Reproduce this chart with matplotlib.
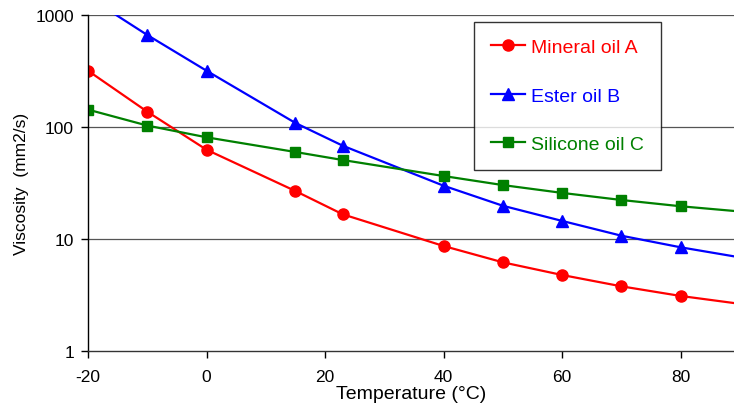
import matplotlib
matplotlib.use("Agg")
import matplotlib.pyplot as plt
from matplotlib.ticker import FixedLocator, NullLocator, FixedFormatter

plt.rcParams['font.family'] = ['Liberation Sans', 'DejaVu Sans']
plt.rcParams['axes.unicode_minus'] = False

# Temperatures (°C)
temp_a = [-20, -10, 0, 15, 23, 40, 50, 60, 70, 80, 89]
visc_a = [318, 137, 62.7, 26.8, 16.6, 8.66, 6.19, 4.77, 3.78, 3.10, 2.68]
marks_a = [0, 1, 2, 3, 4, 5, 6, 7, 8, 9]

temp_b = [-20, -10, 0, 15, 23, 40, 50, 60, 70, 80, 89]
visc_b = [1450, 663, 318, 108.6, 68, 29.9, 19.8, 14.5, 10.7, 8.43, 7.0]
marks_b = [1, 2, 3, 4, 5, 6, 7, 8, 9]

temp_c = [-20, -10, 0, 15, 23, 40, 50, 60, 70, 80, 89]
visc_c = [143, 103, 80.9, 59.8, 50.7, 36.5, 30.3, 25.8, 22.3, 19.6, 17.8]
marks_c = [0, 1, 2, 3, 4, 5, 6, 7, 8, 9]

labels = ["Mineral oil A", "Ester oil B", "Silicone oil C"]
colors = ["#ff0000", "#0000ff", "#008000"]

x_ticks = [-20, 0, 20, 40, 60, 80]
x_tick_labels = ["-20", "0", "20", "40", "60", "80"]
y_ticks = [1, 10, 100, 1000]
y_tick_labels = ["1", "10", "100", "1000"]

fig = plt.figure(figsize=(7.34, 4.10), dpi=100)
ax = fig.add_axes([88/734, 1 - 352/410, 1 - 88/734, (352 - 16)/410])

ax.plot(temp_a, visc_a, color=colors[0], lw=1.6, marker='o', ms=8,
        markevery=marks_a, label=labels[0])
ax.plot(temp_b, visc_b, color=colors[1], lw=1.6, marker='^', ms=8.5,
        markevery=marks_b, label=labels[1])
ax.plot(temp_c, visc_c, color=colors[2], lw=1.6, marker='s', ms=6.5,
        markevery=marks_c, label=labels[2])

ax.set_yscale('log')
ax.set_ylim(1, 1000)
ax.set_xlim(-20, 89)

ax.yaxis.set_major_locator(FixedLocator(y_ticks))
ax.yaxis.set_major_formatter(FixedFormatter(y_tick_labels))
ax.yaxis.set_minor_locator(NullLocator())
ax.xaxis.set_major_locator(FixedLocator(x_ticks))
ax.xaxis.set_major_formatter(FixedFormatter(x_tick_labels))

for v in y_ticks[1:]:
    ax.axhline(v, color='#555555', lw=0.9, zorder=0)

for s in ['top', 'right']:
    ax.spines[s].set_visible(False)
ax.spines['left'].set_color('black')
ax.spines['bottom'].set_color('#333333')
ax.spines['left'].set_linewidth(1.0)
ax.spines['bottom'].set_linewidth(1.0)

ax.tick_params(axis='both', direction='out', length=5, width=1, labelsize=12.5, colors='black')
ax.tick_params(axis='x', pad=8)
ax.tick_params(axis='y', pad=5)

ax.set_xlabel("Temperature (°C)", fontsize=14, labelpad=1)
ax.set_ylabel("Viscosity  (mm2/s)", fontsize=12.5, labelpad=5)

leg = ax.legend(loc='upper left', bbox_to_anchor=((474 - 88) / (734 - 88), 1 - (22.7 - 16) / 336),
                frameon=True, fancybox=False, edgecolor='black', fontsize=14,
                handlelength=1.75, handletextpad=0.35, labelspacing=1.6,
                borderpad=0.85, borderaxespad=0)
leg.get_frame().set_linewidth(1.0)
for t, c in zip(leg.get_texts(), colors):
    t.set_color(c)

fig.savefig("out.png", dpi=100)
